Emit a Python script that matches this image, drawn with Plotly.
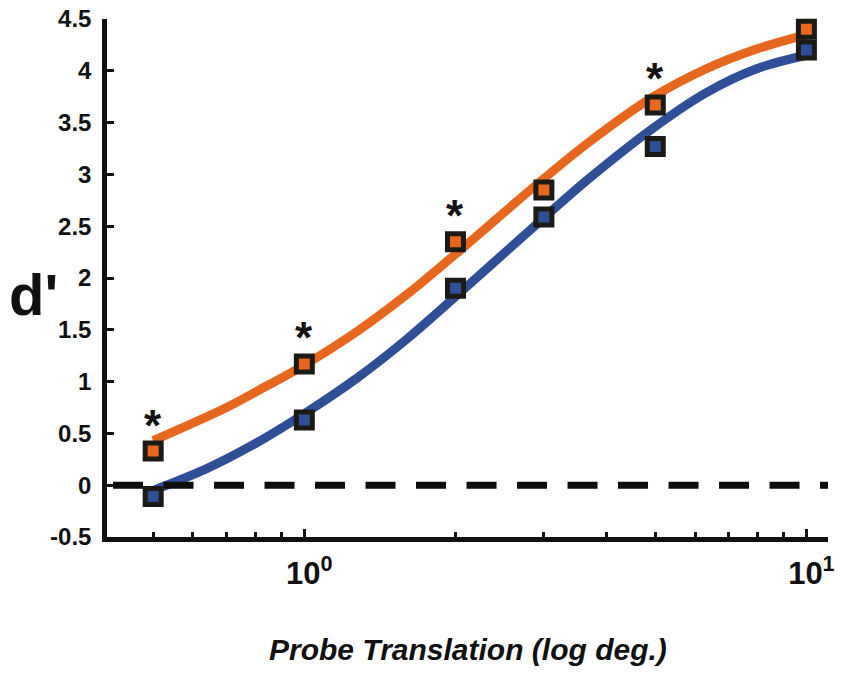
import numpy as np
import plotly.graph_objects as go

# ---- data ----
probe_x = [0.5, 1, 2, 3, 5, 10]
orange_pts = [0.33, 1.17, 2.35, 2.85, 3.67, 4.40]
blue_pts = [-0.11, 0.63, 1.90, 2.59, 3.27, 4.20]

orange_fit_x = [0.5, 0.7, 0.8, 1.0, 1.27, 1.6, 2.0, 2.95, 3.71, 4.96, 6.32, 7.96, 10]
orange_fit_y = [0.43, 0.75, 0.90, 1.16, 1.48, 1.84, 2.23, 2.93, 3.32, 3.75, 4.02, 4.21, 4.35]
blue_fit_x = [0.5, 0.639, 0.804, 1.0, 1.27, 1.6, 2.0, 2.95, 3.71, 4.96, 6.32, 7.96, 10]
blue_fit_y = [-0.05, 0.16, 0.41, 0.69, 1.03, 1.41, 1.82, 2.55, 2.97, 3.45, 3.79, 4.02, 4.15]

signif_x = [0.5, 1, 2, 5]          # points marked with *
zero_level = 0

y_tickvals = [-0.5, 0, 0.5, 1, 1.5, 2, 2.5, 3, 3.5, 4, 4.5]
y_ticktext = ['-0.5', '0', '0.5', '1', '1.5', '2', '2.5', '3', '3.5', '4', '4.5']
x_tickvals = [1, 10]
x_ticktext = ['10<sup>0</sup>', '10<sup>1</sup>']
x_minor_ticks = [0.5, 0.6, 0.7, 0.8, 0.9, 2, 3, 4, 5, 6, 7, 8, 9]

# ---- style ----
ORANGE = '#E8671E'
BLUE = '#2F4E98'
EDGE = '#1B1A14'
AX = '#111111'
FONT = 'Arial, Liberation Sans, sans-serif'
XR = [-0.393, 1.043]
YR = [-0.5, 4.5]

fig = go.Figure()

fig.add_trace(go.Scatter(x=orange_fit_x, y=orange_fit_y, mode='lines',
                         line=dict(color=ORANGE, width=9, shape='spline', smoothing=1.0),
                         showlegend=False, hoverinfo='skip'))
fig.add_trace(go.Scatter(x=blue_fit_x, y=blue_fit_y, mode='lines',
                         line=dict(color=BLUE, width=9, shape='spline', smoothing=1.0),
                         showlegend=False, hoverinfo='skip'))

# zero reference line (drawn over curves, under markers)
zx0 = 10 ** (XR[0] + 0.012)
zx1 = 10 ** XR[1]
fig.add_trace(go.Scatter(x=[zx0, zx1], y=[zero_level, zero_level], mode='lines',
                         line=dict(color='#0d0d0d', width=7, dash='30px,20.5px'),
                         showlegend=False, hoverinfo='skip', cliponaxis=False))

fig.add_trace(go.Scatter(x=probe_x, y=blue_pts, mode='markers',
                         marker=dict(symbol='square', size=16, color=BLUE,
                                     line=dict(color=EDGE, width=5)),
                         showlegend=False, cliponaxis=False))
fig.add_trace(go.Scatter(x=probe_x, y=orange_pts, mode='markers',
                         marker=dict(symbol='square', size=16, color=ORANGE,
                                     line=dict(color=EDGE, width=5)),
                         showlegend=False, cliponaxis=False))

annotations = []
for sx in signif_x:
    yv = orange_pts[probe_x.index(sx)]
    annotations.append(dict(x=np.log10(sx), y=yv, xref='x', yref='y', text='<b>*</b>',
                            showarrow=False, yshift=26,
                            font=dict(family=FONT, size=44, color='#111111')))

annotations.append(dict(x=-0.1026, y=0.469, xref='paper', yref='paper', text="<b>d'</b>",
                        showarrow=False, xanchor='center', yanchor='middle',
                        font=dict(family=FONT, size=58, color='#111111')))
annotations.append(dict(x=0.5, y=-0.218, xref='paper', yref='paper',
                        text='<b><i>Probe Translation (log deg.)</i></b>',
                        showarrow=False, xanchor='center', yanchor='middle',
                        font=dict(family=FONT, size=30, color='#111111')))

fig.update_layout(
    width=841, height=679,
    margin=dict(l=107, r=13, t=19, b=142, autoexpand=False),
    paper_bgcolor='white', plot_bgcolor='white',
    showlegend=False,
    annotations=annotations,
    xaxis=dict(type='log', range=XR, showgrid=False, zeroline=False, automargin=False,
               showline=True, linecolor=AX, linewidth=4.5,
               tickmode='array', tickvals=x_tickvals,
               ticktext=['<b>' + t + '</b>' for t in x_ticktext],
               ticks='inside', ticklen=8, tickwidth=3, tickcolor=AX,
               tickfont=dict(family=FONT, size=31, color='#111111'),
               ticklabelstandoff=5, ticklabelshift=5,
               minor=dict(tickmode='array', tickvals=x_minor_ticks, ticks='inside',
                          ticklen=5, tickwidth=3, tickcolor=AX, showgrid=False)),
    yaxis=dict(range=YR, showgrid=False, zeroline=False, automargin=False,
               showline=True, linecolor=AX, linewidth=4.5,
               tickmode='array', tickvals=y_tickvals,
               ticktext=['<b>' + t + '</b>' for t in y_ticktext],
               ticks='inside', ticklen=7, tickwidth=3, tickcolor=AX,
               tickfont=dict(family=FONT, size=24, color='#111111'),
               ticklabelstandoff=6),
)

fig.write_html('out.html')
